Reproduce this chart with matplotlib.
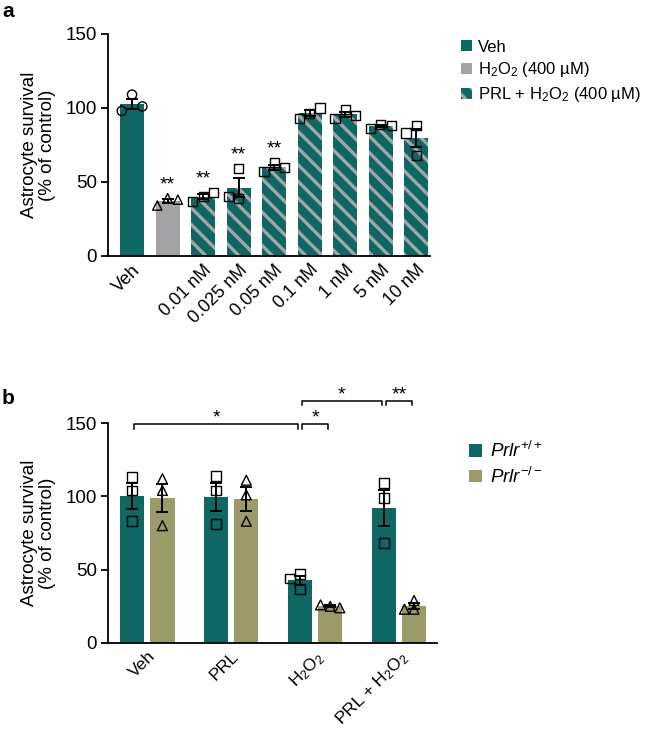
import matplotlib
matplotlib.use("Agg")
import matplotlib.pyplot as plt
import numpy as np
from matplotlib.patches import Patch

plt.rcParams['font.family'] = ['Liberation Sans', 'DejaVu Sans']
plt.rcParams['mathtext.fontset'] = 'custom'
plt.rcParams['mathtext.rm'] = 'Liberation Sans'
plt.rcParams['mathtext.it'] = 'Liberation Sans:italic'
plt.rcParams['hatch.linewidth'] = 2.4

TEAL = '#0e6763'
GRAY = '#a3a3a5'
OLIVE = '#9c9a68'
STRIPE = '#9fa7a7'

# ---- panel a data ----
a_labels = ['Veh', '', '0.01 nM', '0.025 nM', '0.05 nM', '0.1 nM', '1 nM', '5 nM', '10 nM']
a_kind = ['veh', 'h2o2', 'prl', 'prl', 'prl', 'prl', 'prl', 'prl', 'prl']
a_points = [
    [109, 98, 101],
    [39, 34, 38],
    [40, 37, 43],
    [59, 39, 40],
    [63, 57, 60],
    [96, 93, 100],
    [99, 93, 95],
    [89, 86, 88],
    [88, 83, 68],
]
a_marker = ['o', '^', 's', 's', 's', 's', 's', 's', 's']
a_sig = ['', '**', '**', '**', '**', '', '', '', '']

# ---- panel b data ----
b_groups = ['Veh', 'PRL', 'H$_2$O$_2$', 'PRL + H$_2$O$_2$']
b_wt = [[113, 104, 83], [114, 104, 81], [37, 47, 44], [109, 99, 68]]
b_ko = [[112, 104, 80], [111, 101, 83], [25, 26, 24], [29, 23, 23]]
# brackets: (group_i, geno_i, group_j, geno_j, level, label)
b_brackets = [
    (0, 0, 2, 0, 0, '*'),
    (2, 0, 2, 1, 0, '*'),
    (2, 0, 3, 0, 1, '*'),
    (3, 0, 3, 1, 1, '**'),
]


def swarm(vals, thresh, step):
    placed = []
    offs = []
    for v in vals:
        for c in [0, -step, step, -2 * step, 2 * step]:
            if all(abs(v - pv) >= thresh or abs(c - pc) > step * 0.5 for pv, pc in placed):
                break
        placed.append((v, c))
        offs.append(c)
    return offs


def sem(p):
    p = np.asarray(p, dtype=float)
    return p.std(ddof=1) / np.sqrt(len(p))


def style_axis(ax, xsize=13):
    for s in ['top', 'right']:
        ax.spines[s].set_visible(False)
    ax.spines['left'].set_linewidth(1.3)
    ax.spines['bottom'].set_linewidth(1.3)
    ax.set_ylim(0, 150)
    ax.set_yticks([0, 50, 100, 150])
    ax.tick_params(axis='y', labelsize=13.5, width=1.3, length=5, pad=3)
    ax.tick_params(axis='x', length=0, labelsize=xsize, pad=4)
    ax.set_ylabel('Astrocyte survival\n(% of control)', fontsize=13.5, labelpad=7,
                  linespacing=1.05)


fig = plt.figure(figsize=(6.46, 7.31), dpi=100)

# ================= panel a =================
ax1 = fig.add_axes([0.167, 0.650, 0.499, 0.3035])
style_axis(ax1)
x = np.arange(len(a_labels))
w = 0.68
for i, pts in enumerate(a_points):
    m = np.mean(pts)
    if a_kind[i] == 'veh':
        ax1.bar(x[i], m, w, color=TEAL, linewidth=0)
    elif a_kind[i] == 'h2o2':
        ax1.bar(x[i], m, w, color=GRAY, linewidth=0)
    else:
        ax1.bar(x[i], m, w, color=TEAL, edgecolor=STRIPE, hatch='\\\\', linewidth=0)
    offs = swarm(pts, 12, 0.29)
    ax1.scatter(x[i] + np.array(offs), pts, marker=a_marker[i], s=44,
                facecolors='none', edgecolors='black', linewidths=1.0, zorder=3, clip_on=False)
    ax1.errorbar(x[i], m, yerr=sem(pts), color='black', capsize=4, elinewidth=1.4,
                 capthick=1.4, zorder=4)
    if a_sig[i]:
        ax1.text(x[i], max(pts) + 3.5, a_sig[i], ha='center', va='bottom', fontsize=14)
ax1.set_xlim(-0.68, 8.39)
ax1.set_xticks(x)
ax1.set_xticklabels(a_labels, rotation=45, ha='right', rotation_mode='anchor')

a_handles = [
    Patch(facecolor=TEAL, linewidth=0, label='Veh'),
    Patch(facecolor=GRAY, linewidth=0, label='H$_2$O$_2$ (400 µM)'),
    Patch(facecolor=TEAL, edgecolor=STRIPE, hatch='\\\\', linewidth=0, label='PRL + H$_2$O$_2$ (400 µM)'),
]
fig.legend(handles=a_handles, loc='upper left', bbox_to_anchor=(0.703, 0.955), frameon=False,
           fontsize=12, handlelength=0.65, handleheight=0.65, handletextpad=0.4, labelspacing=0.35,
           borderaxespad=0)

fig.text(0.003, 0.997, 'a', fontsize=15, fontweight='bold', va='top', ha='left')

# ================= panel b =================
ax2 = fig.add_axes([0.167, 0.1204, 0.509, 0.3009])
style_axis(ax2, xsize=12.5)
gx = np.arange(len(b_groups))
off = 0.18
bw = 0.29
for i in range(len(b_groups)):
    for k, (pts, col, mk) in enumerate([(b_wt[i], TEAL, 's'), (b_ko[i], OLIVE, '^')]):
        xc = gx[i] + (off if k else -off)
        m = np.mean(pts)
        ax2.bar(xc, m, bw, color=col, linewidth=0)
        offs = swarm(pts, 6, 0.115)
        ax2.scatter(xc + np.array(offs), pts, marker=mk, s=50, facecolors='none',
                    edgecolors='black', linewidths=1.0, zorder=3, clip_on=False)
        ax2.errorbar(xc, m, yerr=sem(pts), color='black', capsize=4, elinewidth=1.4,
                     capthick=1.4, zorder=4)
ax2.set_xlim(-0.47, 3.45)
ax2.set_xticks(gx)
ax2.set_xticklabels(b_groups, rotation=45, ha='right', rotation_mode='anchor')

levels = [149, 165]
for gi, ki, gj, kj, lev, lab in b_brackets:
    x1 = gx[gi] + (off if ki else -off) + 0.02
    x2 = gx[gj] + (off if kj else -off) - 0.02
    y = levels[lev]
    ax2.plot([x1, x1, x2, x2], [y - 3, y, y, y - 3], color='black', lw=1.1, clip_on=False)
    ax2.text((x1 + x2) / 2, y - 1.5, lab, ha='center', va='bottom', fontsize=14)

b_handles = [
    Patch(facecolor=TEAL, linewidth=0, label='$Prlr^{+/+}$'),
    Patch(facecolor=OLIVE, linewidth=0, label='$Prlr^{-/-}$'),
]
fig.legend(handles=b_handles, loc='upper left', bbox_to_anchor=(0.715, 0.407), frameon=False,
           fontsize=13.5, handlelength=0.65, handleheight=0.65, handletextpad=0.45, labelspacing=0.3,
           borderaxespad=0)

fig.text(0.003, 0.468, 'b', fontsize=15, fontweight='bold', va='top', ha='left')

fig.savefig('out.png', dpi=100)
